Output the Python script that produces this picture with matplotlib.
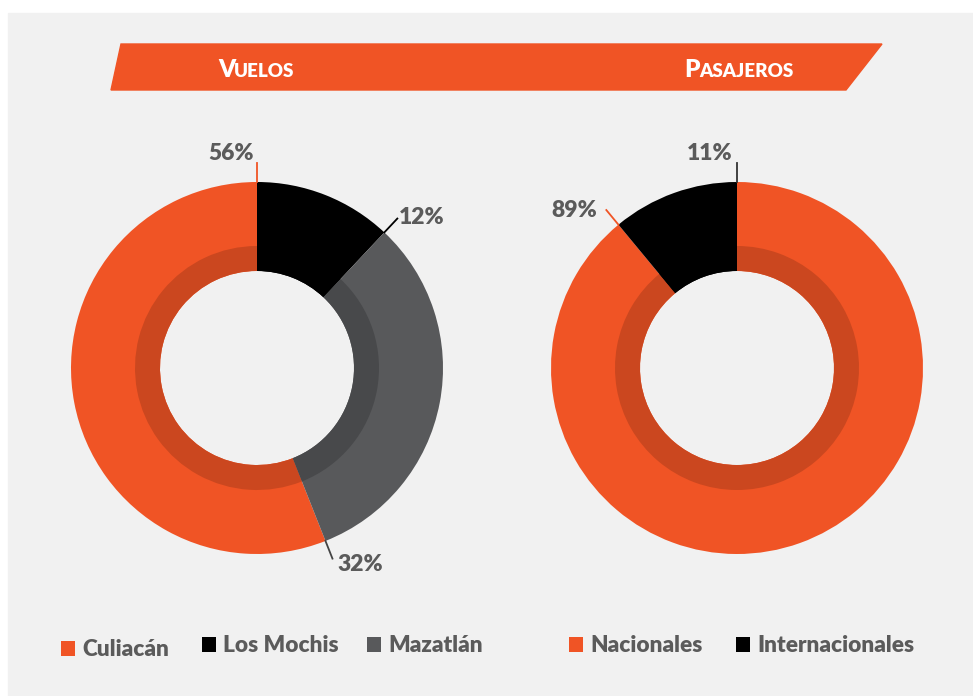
import numpy as np
import matplotlib
matplotlib.use('Agg')
import matplotlib.pyplot as plt
from matplotlib.patches import Rectangle, Polygon

# datos
ciudades = ['Culiacán', 'Los Mochis', 'Mazatlán']
vuelos = [56, 12, 32]
tipos = ['Nacionales', 'Internacionales']
pasajeros = [89, 11]

naranja = '#F05425'
negro = '#000000'
gris = '#58595B'
naranja_osc = '#CB471F'
gris_osc = '#48494B'
texto = '#5B5B5B'
fondo = '#F1F1F1'

W, H = 973, 696
fig = plt.figure(figsize=(W / 100, H / 100), dpi=100, facecolor='white')
ax = fig.add_axes([0, 0, 1, 1])
ax.set_xlim(0, W)
ax.set_ylim(0, H)
ax.set_aspect('equal')
ax.axis('off')

def Y(y):
    return H - y

ax.add_patch(Rectangle((8, 0), W - 8, H - 13, color=fondo, zorder=0))

# banda de titulo
ax.add_patch(Polygon([(121, Y(44)), (882, Y(44)), (846, Y(90)), (111, Y(90))],
                     closed=True, color=naranja, zorder=1))

def titulo(x, palabra):
    ax.text(x, Y(77), palabra[0], color='white', fontsize=17.5, fontweight='heavy',
            family='Lato', ha='left', va='baseline', zorder=2)
    ax.text(x + 15.5, Y(77), palabra[1:], color='white', fontsize=13.5, fontweight='heavy',
            family='Lato', ha='left', va='baseline', zorder=2)

titulo(218, 'VUELOS')
titulo(684, 'PASAJEROS')

R = 186
r_int = 97
r_sombra = 122

def dona(centro, valores, colores, oscuros, start):
    ws, _ = ax.pie(valores, colors=colores, radius=R, center=centro, startangle=start,
                   counterclock=False, wedgeprops=dict(width=R - r_int, linewidth=0),
                   frame=True)
    ax.pie(valores, colors=oscuros, radius=r_sombra, center=centro, startangle=start,
           counterclock=False, wedgeprops=dict(width=r_sombra - r_int, linewidth=0),
           frame=True)
    return ws

c1 = (257, Y(368))
c2 = (737, Y(368))
w1 = dona(c1, vuelos, [naranja, negro, gris], [naranja_osc, negro, gris_osc],
          90 + vuelos[0] * 3.6)
w2 = dona(c2, pasajeros, [naranja, negro], [naranja_osc, negro], 90)
ax.set_xlim(0, W)
ax.set_ylim(0, H)
ax.axis('off')

def etiqueta(w, valor, color, centro, ha, dx, dy):
    a = np.deg2rad(w.theta1)
    x0, y0 = centro[0] + R * np.cos(a), centro[1] + R * np.sin(a)
    x1, y1 = centro[0] + (R + 19) * np.cos(a), centro[1] + (R + 19) * np.sin(a)
    ax.plot([x0, x1], [y0, y1], color=color, lw=1.3, zorder=3)
    ax.text(x1 + dx, y1 + dy, '%d%%' % valor, color=texto, fontsize=16.5, fontweight='heavy',
            family='Lato', ha=ha, va='center', zorder=3)

etiqueta(w1[0], vuelos[0], naranja, c1, 'right', -3, 10)
etiqueta(w1[1], vuelos[1], negro, c1, 'left', 2, 1)
etiqueta(w1[2], vuelos[2], '#444444', c1, 'left', 5, -6)
etiqueta(w2[0], pasajeros[0], naranja, c2, 'right', -9, 0)
etiqueta(w2[1], pasajeros[1], '#333333', c2, 'right', -4, 10)

# leyendas
ley = [(61, 641, ciudades[0], naranja), (202, 637, ciudades[1], negro),
       (367, 637, ciudades[2], gris), (569, 637, tipos[0], naranja),
       (736, 637, tipos[1], negro)]
for x, y, nombre, col in ley:
    ax.add_patch(Rectangle((x, Y(y + 15)), 14, 15, color=col, lw=0, zorder=2))
    ax.text(x + 21, Y(y + 8), nombre, color=texto, fontsize=16.3, fontweight='heavy',
            family='Lato', ha='left', va='center', zorder=2)

fig.savefig('out.png', dpi=100, facecolor='white')
